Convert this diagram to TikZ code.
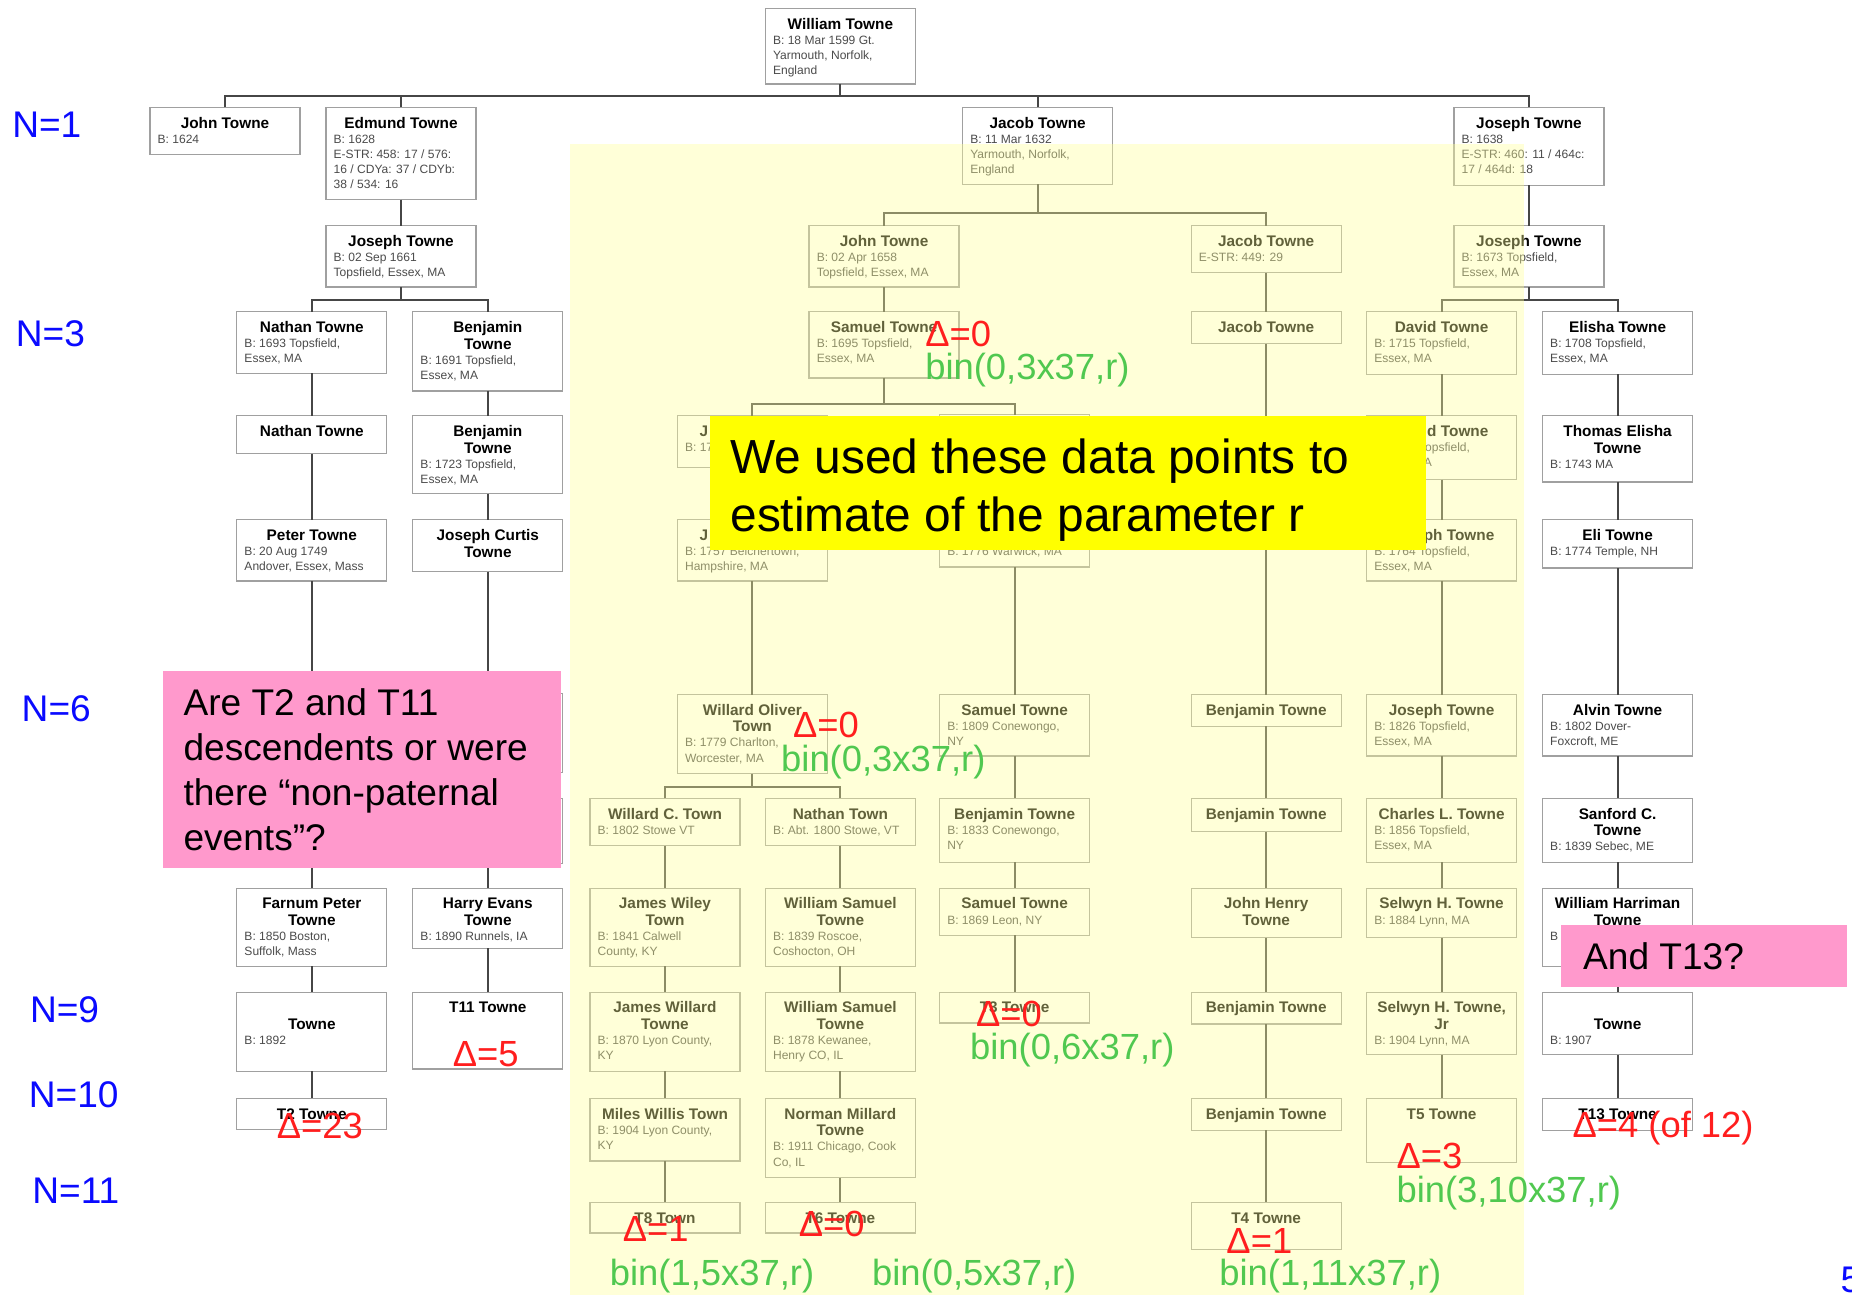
\documentclass[tikz,border=0pt]{standalone}
\usepackage{fontspec}
\setmainfont{Liberation Sans}
\usetikzlibrary{calc}
\definecolor{boxgray}{RGB}{160,160,160}
\definecolor{linegray}{RGB}{70,70,70}
\definecolor{dettext}{RGB}{75,75,75}
\definecolor{ovlyellow}{RGB}{255,255,153}
\definecolor{callyellow}{RGB}{255,255,0}
\definecolor{pinkc}{RGB}{255,153,204}
\definecolor{nblue}{RGB}{10,10,255}
\definecolor{annred}{RGB}{255,30,30}
\definecolor{anngreen}{RGB}{80,200,80}
\newcommand\nmf{\fontsize{6.5}{7}\selectfont\bfseries}
\newcommand\dtf{\fontsize{5.1}{6.4}\selectfont\mdseries\color{dettext}}
\newcommand\annf{\fontsize{15.4}{18}\selectfont}
\newcommand\nlabf{\fontsize{15.7}{18}\selectfont}
\newcommand\bigf{\fontsize{20.25}{24}\selectfont}
\newcommand\pinkf{\fontsize{15.7}{19}\selectfont}
\tikzset{
  pbox/.style={draw=boxgray, fill=white, line width=0.55pt, inner xsep=3.25pt, inner ysep=0pt, outer sep=0pt},
  conn/.style={draw=linegray, line width=0.8pt},
  annbase/.style={inner sep=0pt, anchor=base west},
  redann/.style={annbase, text=annred, font=\annf},
  grnann/.style={annbase, text=anngreen, font=\annf},
  nlab/.style={annbase, text=nblue, font=\nlabf},
  bigtxt/.style={annbase, text=black, font=\bigf},
  pinktxt/.style={annbase, text=black, font=\pinkf}
}
\newcommand\pbx[6]{%
  \node[pbox, anchor=north] (#1) at (#2,#3)
   {\parbox[c][\dimexpr #4pt/2\relax][t]{57pt}{\centering\nmf\rule{0pt}{8.8pt}#5\par\raggedright\dtf #6\par}};}
\newcommand\lk[2]{\draw[conn] (#1.south) -- (#2.north);}
\begin{document}
\begin{tikzpicture}[x=0.5pt,y=-0.5pt]
\fill[white] (0,0) rectangle (1568,1096);
\useasboundingbox (0,0) rectangle (1568,1096);
% Row 0
\pbx{william}{711.5}{7}{64}{William Towne}{B: 18 Mar 1599 Gt.\\Yarmouth, Norfolk,\\England}
% Row 1
\pbx{johnA}{190.5}{91}{40}{John Towne}{B: 1624}
\pbx{edmund}{339.5}{91}{78}{Edmund Towne}{B: 1628\\E-STR: 458: 17 / 576:\\16 / CDYa: 37 / CDYb:\\38 / 534: 16}
\pbx{jacobA}{878.5}{91}{65}{Jacob Towne}{B: 11 Mar 1632\\Yarmouth, Norfolk,\\England}
\pbx{josephA}{1294.5}{91}{66}{Joseph Towne}{B: 1638\\E-STR: 460: 11 / 464c:\\17 / 464d: 18}
% Row 2
\pbx{josephB}{339.5}{191}{52}{Joseph Towne}{B: 02 Sep 1661\\Topsfield, Essex, MA}
\pbx{johnB}{748.5}{191}{52}{John Towne}{B: 02 Apr 1658\\Topsfield, Essex, MA}
\pbx{jacobB}{1072}{191}{40}{Jacob Towne}{E-STR: 449: 29}
\pbx{josephC}{1294.5}{191}{52}{Joseph Towne}{B: 1673 Topsfield,\\Essex, MA}
% Row 3
\pbx{nathanA}{264}{264}{52}{Nathan Towne}{B: 1693 Topsfield,\\Essex, MA}
\pbx{benjA}{413}{264}{67}{Benjamin\\Towne}{B: 1691 Topsfield,\\Essex, MA}
\pbx{samuelA}{748.5}{264}{56}{Samuel Towne}{B: 1695 Topsfield,\\Essex, MA}
\pbx{jacobC}{1072}{264}{27}{Jacob Towne}{}
\pbx{davidA}{1220.5}{264}{53}{David Towne}{B: 1715 Topsfield,\\Essex, MA}
\pbx{elishaA}{1369.5}{264}{53}{Elisha Towne}{B: 1708 Topsfield,\\Essex, MA}
% Row 4
\pbx{nathanB}{264}{352}{32}{Nathan Towne}{}
\pbx{benjB}{413}{352}{66}{Benjamin\\Towne}{B: 1723 Topsfield,\\Essex, MA}
\pbx{hidA}{637}{352}{44}{J\phantom{oseph Towne}}{B: 17}
\pbx{hidB}{859}{351}{40}{}{}
\pbx{davidB}{1220.5}{352}{54}{\phantom{Davi}d Towne}{\phantom{B: 1740} Topsfield,\\\phantom{Essex, M}A}
\pbx{thomas}{1369.5}{352}{56}{Thomas Elisha\\Towne}{B: 1743 MA}
% Row 5
\pbx{peter}{264}{440}{52}{Peter Towne}{B: 20 Aug 1749\\Andover, Essex, Mass}
\pbx{joscurt}{413}{440}{44}{Joseph Curtis\\Towne}{}
\pbx{hidC}{637}{440}{52}{J\phantom{oseph Towne}}{B: 1757 Belchertown,\\Hampshire, MA}
\pbx{hidD}{859}{440}{40}{}{B: 1776 Warwick, MA}
\pbx{josephD}{1220.5}{440}{52}{\phantom{Jose}ph Towne}{B: 1764 Topsfield,\\Essex, MA}
\pbx{eli}{1369.5}{440}{41}{Eli Towne}{B: 1774 Temple, NH}
% Row 6
\pbx{hidE}{264}{588}{52}{}{}
\pbx{hidF}{413}{587}{67}{}{}
\pbx{willardO}{637}{588}{67}{Willard Oliver\\Town}{B: 1779 Charlton,\\Worcester, MA}
\pbx{samuelB}{859}{588}{52}{Samuel Towne}{B: 1809 Conewongo,\\NY}
\pbx{benjC}{1072}{588}{27}{Benjamin Towne}{}
\pbx{josephE}{1220.5}{588}{52}{Joseph Towne}{B: 1826 Topsfield,\\Essex, MA}
\pbx{alvin}{1369.5}{588}{52}{Alvin Towne}{B: 1802 Dover-\\Foxcroft, ME}
% Row 7
\pbx{hidG}{264}{676}{55}{}{}
\pbx{hidH}{413}{676}{55}{}{}
\pbx{willardC}{563}{676}{40}{Willard C. Town}{B: 1802 Stowe VT}
\pbx{nathanC}{711.5}{676}{40}{Nathan Town}{B: Abt. 1800 Stowe, VT}
\pbx{benjD}{859}{676}{54}{Benjamin Towne}{B: 1833 Conewongo,\\NY}
\pbx{benjE}{1072}{676}{28}{Benjamin Towne}{}
\pbx{charles}{1220.5}{676}{54}{Charles L. Towne}{B: 1856 Topsfield,\\Essex, MA}
\pbx{sanford}{1369.5}{676}{54}{Sanford C.\\Towne}{B: 1839 Sebec, ME}
% Row 8
\pbx{farnum}{264}{752}{66}{Farnum Peter\\Towne}{B: 1850 Boston,\\Suffolk, Mass}
\pbx{harry}{413}{752}{51}{Harry Evans\\Towne}{B: 1890 Runnels, IA}
\pbx{jamesW}{563}{752}{66}{James Wiley\\Town}{B: 1841 Calwell\\County, KY}
\pbx{wsamA}{711.5}{752}{66}{William Samuel\\Towne}{B: 1839 Roscoe,\\Coshocton, OH}
\pbx{samuelC}{859}{752}{40}{Samuel Towne}{B: 1869 Leon, NY}
\pbx{johnH}{1072}{752}{42}{John Henry\\Towne}{}
\pbx{selwynA}{1220.5}{752}{42}{Selwyn H. Towne}{B: 1884 Lynn, MA}
\pbx{wharr}{1369.5}{752}{66}{William Harriman\\Towne}{B\phantom{: 1870}}
% Row 9
\pbx{towneA}{264}{840}{67}{\mbox{}\\Towne}{B: 1892}
\pbx{tEleven}{413}{840}{65}{T11 Towne}{}
\pbx{jamesWd}{563}{840}{67}{James Willard\\Towne}{B: 1870 Lyon County,\\KY}
\pbx{wsamB}{711.5}{840}{67}{William Samuel\\Towne}{B: 1878 Kewanee,\\Henry CO, IL}
\pbx{tThree}{859}{840}{26}{T3 Towne}{}
\pbx{benjF}{1072}{840}{27}{Benjamin Towne}{}
\pbx{selwynB}{1220.5}{840}{53}{Selwyn H. Towne,\\Jr}{B: 1904 Lynn, MA}
\pbx{towneB}{1369.5}{840}{53}{\mbox{}\\Towne}{B: 1907}
% Row 10
\pbx{tTwo}{264}{930}{26}{T2 Towne}{}
\pbx{miles}{563}{930}{53}{Miles Willis Town}{B: 1904 Lyon County,\\KY}
\pbx{norman}{711.5}{930}{67}{Norman Millard\\Towne}{B: 1911 Chicago, Cook\\Co, IL}
\pbx{benjG}{1072}{930}{27}{Benjamin Towne}{}
\pbx{tFive}{1220.5}{930}{54}{T5 Towne}{}
\pbx{tThirteen}{1369.5}{930}{27}{T13 Towne}{}
% Row 11
\pbx{tEight}{563}{1018}{26}{T8 Town}{}
\pbx{tSix}{711.5}{1018}{26}{T6 Towne}{}
\pbx{tFour}{1072}{1018}{40}{T4 Towne}{}
% Connectors with buses
\coordinate (busA) at (711.5,81);
\draw[conn] (william.south) -- (busA);
\foreach \n in {johnA,edmund,jacobA,josephA} \draw[conn] (\n.north) |- (busA);
\lk{edmund}{josephB}
\coordinate (busB) at (339.5,254);
\draw[conn] (josephB.south) -- (busB);
\foreach \n in {nathanA,benjA} \draw[conn] (\n.north) |- (busB);
\coordinate (busC) at (878.5,180);
\draw[conn] (jacobA.south) -- (busC);
\foreach \n in {johnB,jacobB} \draw[conn] (\n.north) |- (busC);
\lk{josephA}{josephC}
\coordinate (busD) at (1294.5,254);
\draw[conn] (josephC.south) -- (busD);
\foreach \n in {davidA,elishaA} \draw[conn] (\n.north) |- (busD);
\lk{johnB}{samuelA}
\coordinate (busE) at (748.5,342);
\draw[conn] (samuelA.south) -- (busE);
\foreach \n in {hidA,hidB} \draw[conn] (\n.north) |- (busE);
\coordinate (busF) at (637,666);
\draw[conn] (willardO.south) -- (busF);
\foreach \n in {willardC,nathanC} \draw[conn] (\n.north) |- (busF);
% Chains
\lk{jacobB}{jacobC}\lk{jacobC}{benjC}\lk{benjC}{benjE}\lk{benjE}{johnH}\lk{johnH}{benjF}\lk{benjF}{benjG}\lk{benjG}{tFour}
\lk{nathanA}{nathanB}\lk{nathanB}{peter}\lk{peter}{hidE}\lk{hidE}{hidG}\lk{hidG}{farnum}\lk{farnum}{towneA}\lk{towneA}{tTwo}
\lk{benjA}{benjB}\lk{benjB}{joscurt}\lk{joscurt}{hidF}\lk{hidF}{hidH}\lk{hidH}{harry}\lk{harry}{tEleven}
\lk{hidA}{hidC}\lk{hidC}{willardO}
\lk{willardC}{jamesW}\lk{jamesW}{jamesWd}\lk{jamesWd}{miles}\lk{miles}{tEight}
\lk{nathanC}{wsamA}\lk{wsamA}{wsamB}\lk{wsamB}{norman}\lk{norman}{tSix}
\lk{hidB}{hidD}\lk{hidD}{samuelB}\lk{samuelB}{benjD}\lk{benjD}{samuelC}\lk{samuelC}{tThree}
\lk{davidA}{davidB}\lk{davidB}{josephD}\lk{josephD}{josephE}\lk{josephE}{charles}\lk{charles}{selwynA}\lk{selwynA}{selwynB}\lk{selwynB}{tFive}
\lk{elishaA}{thomas}\lk{thomas}{eli}\lk{eli}{alvin}\lk{alvin}{sanford}\lk{sanford}{wharr}\lk{wharr}{towneB}\lk{towneB}{tThirteen}
% yellow tint region
\fill[ovlyellow, fill opacity=0.38] (483,122) rectangle (1290,1096);
% callouts
\fill[callyellow] (601,352) rectangle (1207,466);
\node[bigtxt] (clA) at (618,401) {We used these data points to};
\node[bigtxt] (clB) at (618,450) {estimate of the parameter r};
\fill[pinkc] (138,568) rectangle (475,735);
\node[pinktxt] (pkA) at (155,606) {Are T2 and T11};
\node[pinktxt] (pkB) at (155,644) {descendents or were};
\node[pinktxt] (pkC) at (155,682) {there “non-paternal};
\node[pinktxt] (pkD) at (155,720) {events”?};
\fill[pinkc] (1322,783) rectangle (1564,836);
\node[pinktxt] (pkE) at (1340,821) {And T13?};
% generation labels
\node[nlab] (nA) at (10,116) {N=1};
\node[nlab] (nB) at (13,293) {N=3};
\node[nlab] (nC) at (18,611) {N=6};
\node[nlab] (nD) at (25,866) {N=9};
\node[nlab] (nE) at (24,938) {N=10};
\node[nlab] (nF) at (27,1019) {N=11};
\node[nlab] (pg) at (1558,1094) {5};
% annotations
\node[redann] (dA) at (783,293) {Δ=0};
\node[grnann] (gA) at (783,321) {bin(0,3x37,r)};
\node[redann] (dB) at (671,624) {Δ=0};
\node[grnann] (gB) at (661,653) {bin(0,3x37,r)};
\node[redann] (dC) at (383,903) {Δ=5};
\node[redann] (dD) at (234,964) {Δ=23};
\node[redann] (dE) at (826,869) {Δ=0};
\node[grnann] (gE) at (821,897) {bin(0,6x37,r)};
\node[redann] (dF) at (527,1051) {Δ=1};
\node[redann] (dG) at (676,1047) {Δ=0};
\node[grnann] (gF) at (516,1088) {bin(1,5x37,r)};
\node[grnann] (gG) at (738,1088) {bin(0,5x37,r)};
\node[redann] (dH) at (1331,963) {Δ=4 (of 12)};
\node[redann] (dI) at (1182,989) {Δ=3};
\node[grnann] (gI) at (1182,1018) {bin(3,10x37,r)};
\node[redann] (dJ) at (1038,1061) {Δ=1};
\node[grnann] (gJ) at (1032,1088) {bin(1,11x37,r)};
\end{tikzpicture}
\end{document}
